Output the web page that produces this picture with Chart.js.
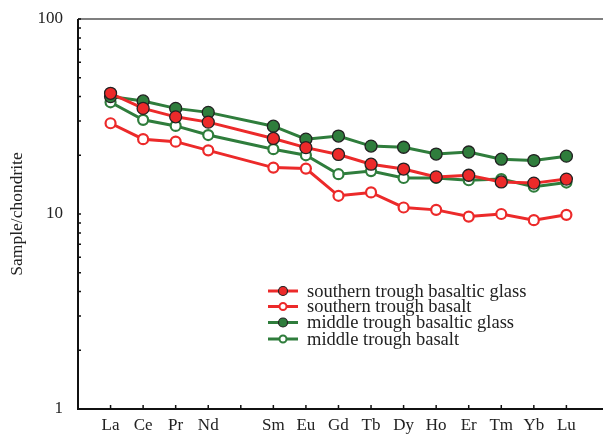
<!DOCTYPE html>
<html lang="en">
  <head>
    <meta charset="UTF-8">
    <title>REE pattern</title>
    <script src="https://cdn.jsdelivr.net/npm/chart.js"></script>
    <style>
      html, body { margin: 0; padding: 0; background: #fff; }
      #wrap { width: 603px; height: 439px; position: relative; }
    </style>
  </head>
  <body>
    <div id="wrap"><canvas id="ree"></canvas></div>
    <script>
      // chondrite-normalised REE, Pm slot left empty
      const elements = ["La", "Ce", "Pr", "Nd", "", "Sm", "Eu", "Gd", "Tb", "Dy", "Ho", "Er", "Tm", "Yb", "Lu"];
      const southGlass  = [41.6, 34.8, 31.5, 29.6, null, 24.4, 21.9, 20.2, 18.0, 17.0, 15.5, 15.8, 14.6, 14.4, 15.1];
      const southBasalt = [29.2, 24.2, 23.5, 21.2, null, 17.3, 17.1, 12.4, 12.9, 10.8, 10.5, 9.7, 10.0, 9.3, 9.9];
      const midGlass    = [40.0, 38.0, 34.8, 33.2, null, 28.2, 24.2, 25.1, 22.3, 22.0, 20.3, 20.8, 19.1, 18.8, 19.8];
      const midBasalt   = [37.4, 30.4, 28.3, 25.4, null, 21.5, 20.0, 16.0, 16.6, 15.3, 15.3, 14.9, 15.1, 13.8, 14.5];
      const seriesNames = ["southern trough basaltic glass", "southern trough basalt", "middle trough basaltic glass", "middle trough basalt"];
      const yTicks = [1, 10, 100];

      const RED = "#ec2a2a";
      const GREEN = "#2f7d3c";
      const SERIF = "'Liberation Serif', 'Times New Roman', serif";

      function pts(arr) {
        return arr.map((v, i) => ({ x: i, y: v }));
      }

      function makeSet(label, arr, color, filled) {
        return {
          label: label,
          data: pts(arr),
          borderColor: color,
          borderWidth: 3,
          spanGaps: true,
          pointRadius: filled ? 6 : 5,
          pointBorderWidth: filled ? 1.3 : 2.2,
          pointBackgroundColor: filled ? color : "#fff",
          pointBorderColor: filled ? "#222" : color,
          filled: filled,
        };
      }

      // axes frame, inward ticks and the legend
      const framePlugin = {
        id: "frame",
        afterDraw(chart) {
          const ctx = chart.ctx;
          const a = chart.chartArea;
          const xs = chart.scales.x;
          const ys = chart.scales.y;
          ctx.save();
          ctx.lineCap = "butt";
          // top border
          ctx.strokeStyle = "#555";
          ctx.lineWidth = 1.5;
          ctx.beginPath();
          ctx.moveTo(a.left, a.top);
          ctx.lineTo(603, a.top);
          ctx.stroke();
          // left + bottom axes
          ctx.strokeStyle = "#111";
          ctx.lineWidth = 2;
          ctx.beginPath();
          ctx.moveTo(a.left, a.top);
          ctx.lineTo(a.left, a.bottom);
          ctx.lineTo(603, a.bottom);
          ctx.stroke();
          // x ticks
          ctx.lineWidth = 1.5;
          ctx.beginPath();
          for (let i = 0; i < elements.length; i++) {
            const px = xs.getPixelForValue(i);
            ctx.moveTo(px, a.bottom);
            ctx.lineTo(px, a.bottom - 4);
          }
          // y minor ticks
          for (let d = 1; d < 100; d *= 10) {
            for (let m = 1; m <= 10; m++) {
              const v = d * m;
              if (v <= 1) continue;
              const py = ys.getPixelForValue(v);
              ctx.moveTo(a.left, py);
              ctx.lineTo(a.left + 3, py);
            }
          }
          ctx.stroke();

          // legend
          const lx = 268, lw = 30, tx = 307;
          const rows = [291, 306.5, 322.5, 339];
          ctx.font = "18.5px " + SERIF;
          ctx.textBaseline = "middle";
          ctx.textAlign = "left";
          chart.data.datasets.forEach((ds, i) => {
            const y = rows[i];
            ctx.strokeStyle = ds.borderColor;
            ctx.lineWidth = 3;
            ctx.beginPath();
            ctx.moveTo(lx, y);
            ctx.lineTo(lx + lw, y);
            ctx.stroke();
            ctx.beginPath();
            ctx.arc(lx + lw / 2, y, ds.filled ? 4.5 : 3.5, 0, Math.PI * 2);
            ctx.fillStyle = ds.pointBackgroundColor;
            ctx.fill();
            ctx.lineWidth = ds.filled ? 1.2 : 2;
            ctx.strokeStyle = ds.pointBorderColor;
            ctx.stroke();
            ctx.fillStyle = "#222";
            ctx.fillText(ds.label, tx, y + 1);
          });
          ctx.restore();
        },
      };

      new Chart(document.getElementById("ree"), {
        type: "line",
        data: {
          datasets: [
            makeSet(seriesNames[0], southGlass, RED, true),
            makeSet(seriesNames[1], southBasalt, RED, false),
            makeSet(seriesNames[2], midGlass, GREEN, true),
            makeSet(seriesNames[3], midBasalt, GREEN, false),
          ],
        },
        options: {
          responsive: true,
          maintainAspectRatio: false,
          animation: false,
          layout: { padding: { top: 19, right: 0, left: 0, bottom: 0 } },
          plugins: {
            legend: { display: false },
            tooltip: { enabled: false },
          },
          scales: {
            x: {
              type: "linear",
              min: -1,
              max: 14.9,
              afterBuildTicks(scale) {
                scale.ticks = elements.map((e, i) => ({ value: i }));
              },
              afterFit(scale) {
                scale.height = 30;
                scale.paddingLeft = 0;
                scale.paddingRight = 0;
              },
              grid: { display: false, drawTicks: false, tickLength: 0 },
              border: { display: false },
              ticks: {
                autoSkip: false,
                maxRotation: 0,
                padding: 6,
                color: "#222",
                font: { family: SERIF, size: 17 },
                callback: (v) => elements[v] || "",
              },
            },
            y: {
              type: "logarithmic",
              min: 1,
              max: 100,
              afterBuildTicks(scale) {
                scale.ticks = yTicks.map((v) => ({ value: v }));
              },
              afterFit(scale) {
                scale.width = 78;
                scale.paddingTop = 0;
                scale.paddingBottom = 0;
              },
              grid: { display: false, drawTicks: false, tickLength: 0 },
              border: { display: false },
              title: {
                display: true,
                text: "Sample/chondrite",
                color: "#222",
                font: { family: SERIF, size: 17.5 },
                padding: { top: 7, bottom: 0 },
              },
              ticks: {
                padding: 15,
                color: "#222",
                font: { family: SERIF, size: 17 },
                callback: (v) => String(v),
              },
            },
          },
        },
        plugins: [framePlugin],
      });
    </script>
  </body>
</html>
